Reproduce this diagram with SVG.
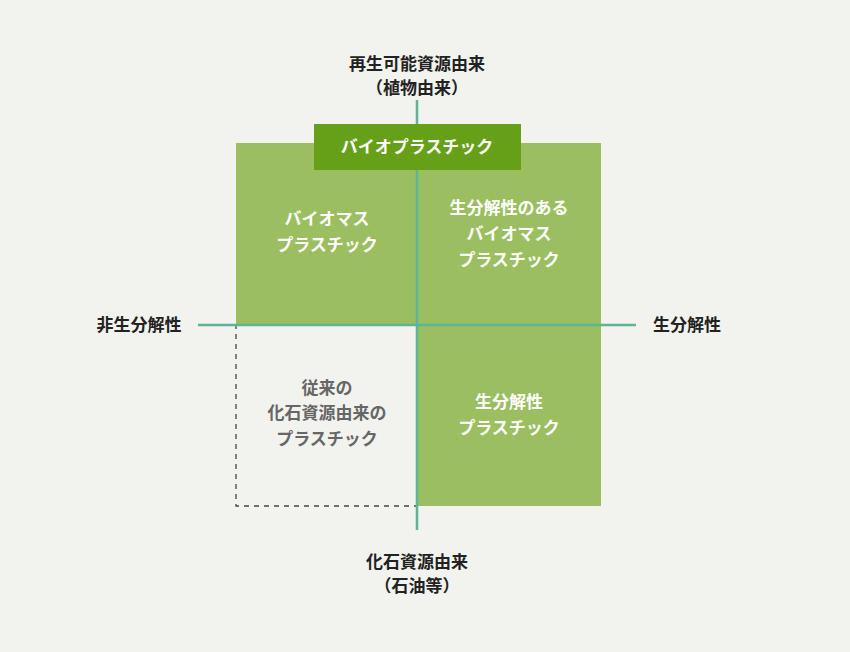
<svg xmlns="http://www.w3.org/2000/svg" width="850" height="652" viewBox="0 0 850 652">
<style>
text{font-family:"Noto Sans CJK JP",sans-serif;font-weight:bold;text-anchor:middle}
.ax{fill:#222;font-size:17px}
.q{fill:#fff;font-size:17px}
.g{fill:#666;font-size:17px}
</style>
<rect width="850" height="652" fill="#f2f2ee"/>
<g id="quadrants">
<rect x="236" y="143" width="365" height="182" fill="#9bbf60"/>
<rect x="417" y="325" width="184" height="181" fill="#9bbf60"/>
<rect x="236" y="325" width="181" height="181" fill="none" stroke="#444" stroke-width="1.3" stroke-dasharray="5,5"/>
</g>
<g id="connectors" stroke="#5db596" stroke-width="2.5">
<line x1="417" y1="100" x2="417" y2="530"/>
<line x1="198" y1="325" x2="636" y2="325"/>
</g>
<g id="title"><rect x="314" y="124" width="207" height="46" fill="#66a018"/><text x="417" y="153" class="q">バイオプラスチック</text></g>
<g id="top"><text x="417" y="70" class="ax">再生可能資源由来</text><text x="417" y="94" class="ax">（植物由来）</text></g>
<g id="bottom"><text x="417" y="568" class="ax">化石資源由来</text><text x="417" y="592" class="ax">（石油等）</text></g>
<g id="left"><text x="139" y="331" class="ax">非生分解性</text></g>
<g id="right"><text x="687" y="331" class="ax">生分解性</text></g>
<g id="tl"><text x="327" y="225" class="q">バイオマス</text><text x="327" y="251" class="q">プラスチック</text></g>
<g id="tr"><text x="509" y="214" class="q">生分解性のある</text><text x="509" y="240" class="q">バイオマス</text><text x="509" y="266" class="q">プラスチック</text></g>
<g id="bl"><text x="327" y="394" class="g">従来の</text><text x="327" y="419" class="g">化石資源由来の</text><text x="327" y="445" class="g">プラスチック</text></g>
<g id="br"><text x="509" y="408" class="q">生分解性</text><text x="509" y="434" class="q">プラスチック</text></g>
</svg>
